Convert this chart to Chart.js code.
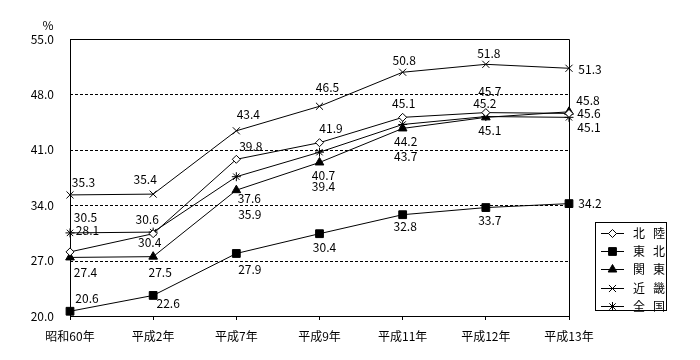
<!DOCTYPE html>
<html>
<head>
<meta charset="utf-8">
<script src="https://cdn.jsdelivr.net/npm/chart.js@4.4.0/dist/chart.umd.min.js"></script>
<style>
  body { margin: 0; background: #fff; }
</style>
</head>
<body>
<canvas id="myChart" width="700" height="360"></canvas>
<script>
// Values
var years = ["昭和60年", "平成2年", "平成7年", "平成9年", "平成11年", "平成12年", "平成13年"];
var hokuriku = [28.1, 30.4, 39.8, 41.9, 45.1, 45.7, 45.6];
var tohoku = [20.6, 22.6, 27.9, 30.4, 32.8, 33.7, 34.2];
var kanto = [27.4, 27.5, 35.9, 39.4, 43.7, 45.1, 45.8];
var kinki = [35.3, 35.4, 43.4, 46.5, 50.8, 51.8, 51.3];
var zenkoku = [30.5, 30.6, 37.6, 40.7, 44.2, 45.2, 45.1];
var yTicks = [20, 27, 34, 41, 48, 55];

// where each value label sits, relative to its point (dx, dy)
var shiftHokuriku = [[17.5,-21],[-3.5,9],[14.5,-12.7],[11.5,-14.5],[1,-14],[4,-21],[20,0.5]];
var shiftTohoku = [[17,-13],[15,8],[13.5,16],[5,14],[2.5,11.5],[4,13],[21,0]];
var shiftKanto = [[15.5,14.6],[7,15.5],[13.5,24],[4,23.5],[3,28],[4,13],[19,-11]];
var shiftKinki = [[13.5,-12.5],[-8,-15],[12,-16],[8,-18.7],[1.5,-12],[3,-11],[21,0.8]];
var shiftZenkoku = [[15.5,-15],[-6,-13],[13,21.5],[4,23],[3,16.5],[-1,-13.4],[20,10]];

var FONT = '"Noto Sans CJK JP", sans-serif';

function makeSet(name, values, style, radius, fill, shifts) {
    return {
        label: name,
        data: values,
        borderColor: "#000",
        borderWidth: 1,
        pointStyle: style,
        pointRadius: radius,
        pointBackgroundColor: fill,
        pointBorderColor: "#000",
        pointBorderWidth: 1,
        tension: 0,
        clip: false,
        shifts: shifts
    };
}

var datasets = [
    makeSet("北陸", hokuriku, "rectRot", 4, "#fff", shiftHokuriku),
    makeSet("東北", tohoku, "rect", 5.5, "#000", shiftTohoku),
    makeSet("関東", kanto, "triangle", 5, "#000", shiftKanto),
    makeSet("近畿", kinki, "crossRot", 5, "#000", shiftKinki),
    makeSet("全国", zenkoku, "star", 4.5, "#000", shiftZenkoku)
];

// dashed grid, top/right frame and the % unit
var framePlugin = {
    id: "frame",
    beforeDatasetsDraw: function(chart) {
        var ctx = chart.ctx;
        var area = chart.chartArea;
        var y = chart.scales.y;
        ctx.save();
        ctx.strokeStyle = "#000";
        ctx.lineWidth = 1;
        ctx.setLineDash([3, 2]);
        yTicks.forEach(function(v) {
            if (v === 20 || v === 55) return;
            var py = Math.round(y.getPixelForValue(v)) + 0.5;
            ctx.beginPath();
            ctx.moveTo(area.left, py);
            ctx.lineTo(area.right, py);
            ctx.stroke();
        });
        ctx.setLineDash([]);
        ctx.beginPath();
        var top = Math.round(area.top) + 0.5;
        var right = Math.round(area.right) + 0.5;
        ctx.moveTo(area.left, top);
        ctx.lineTo(right, top);
        ctx.lineTo(right, area.bottom);
        ctx.stroke();
        ctx.fillStyle = "#000";
        ctx.font = "12px " + FONT;
        ctx.textAlign = "center";
        ctx.textBaseline = "middle";
        ctx.fillText("%", 48, 25);
        ctx.restore();
    }
};

// value labels next to the points
var labelPlugin = {
    id: "valueLabels",
    afterDatasetsDraw: function(chart) {
        var ctx = chart.ctx;
        ctx.save();
        ctx.fillStyle = "#000";
        ctx.font = "12px " + FONT;
        ctx.textAlign = "center";
        ctx.textBaseline = "middle";
        chart.data.datasets.forEach(function(ds, di) {
            var meta = chart.getDatasetMeta(di);
            meta.data.forEach(function(pt, i) {
                var s = ds.shifts[i];
                ctx.fillText(ds.data[i].toFixed(1), pt.x + s[0], pt.y + s[1]);
            });
        });
        ctx.restore();
    }
};

// boxed legend with line + marker samples
var legendPlugin = {
    id: "boxLegend",
    afterDraw: function(chart) {
        var ctx = chart.ctx;
        ctx.save();
        ctx.strokeStyle = "#000";
        ctx.lineWidth = 1;
        ctx.strokeRect(595.5, 222.5, 71, 88);
        ctx.font = "12px " + FONT;
        ctx.textAlign = "center";
        ctx.textBaseline = "middle";
        chart.data.datasets.forEach(function(ds, i) {
            var ly = Math.round(232.5 + i * 18.4) + 0.5;
            ctx.strokeStyle = "#000";
            ctx.beginPath();
            ctx.moveTo(601, ly);
            ctx.lineTo(624, ly);
            ctx.stroke();
            ctx.fillStyle = ds.pointBackgroundColor;
            Chart.helpers.drawPoint(ctx, {
                pointStyle: ds.pointStyle,
                radius: ds.pointRadius,
                borderWidth: 1,
                rotation: 0
            }, 612.5, ly);
            ctx.fillStyle = "#000";
            ctx.fillText(ds.label.charAt(0), 639, ly);
            ctx.fillText(ds.label.charAt(1), 659, ly);
        });
        ctx.restore();
    }
};

var ctx = document.getElementById("myChart");
var myChart = new Chart(ctx, {
    type: "line",
    data: { labels: years, datasets: datasets },
    plugins: [framePlugin, labelPlugin, legendPlugin],
    options: {
        responsive: false,
        animation: false,
        layout: { padding: { top: 39, right: 131, left: 0, bottom: 0 } },
        plugins: {
            legend: { display: false },
            tooltip: { enabled: false }
        },
        scales: {
            x: {
                offset: false,
                grid: { drawOnChartArea: false, drawTicks: true, tickLength: 4, color: "#000" },
                border: { color: "#000", width: 1 },
                ticks: {
                    color: "#000",
                    padding: 9,
                    maxRotation: 0,
                    autoSkip: false,
                    font: { family: FONT, size: 12 }
                },
                afterFit: function(scale) { scale.height = 44; }
            },
            y: {
                min: 20,
                max: 55,
                grid: { display: false, drawTicks: false },
                border: { color: "#000", width: 1 },
                afterBuildTicks: function(scale) {
                    scale.ticks = yTicks.map(function(v) { return { value: v }; });
                },
                ticks: {
                    color: "#000",
                    padding: 16,
                    font: { family: FONT, size: 12 },
                    callback: function(v) { return Number(v).toFixed(1); }
                },
                afterFit: function(scale) { scale.width = 70; }
            }
        }
    }
});
</script>
</body>
</html>
